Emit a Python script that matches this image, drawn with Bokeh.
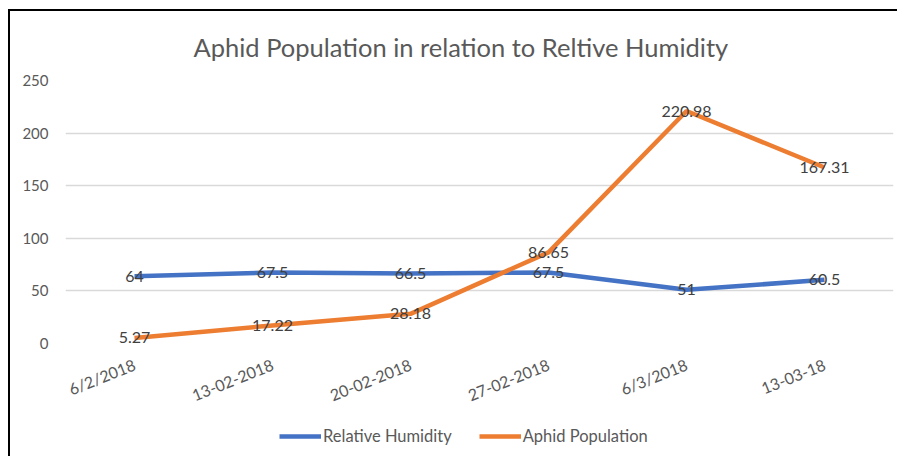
from bokeh.plotting import figure
from bokeh.models import ColumnDataSource, Legend, LegendItem, FactorRange, Range1d, SingleIntervalTicker
from bokeh.layouts import column
from bokeh.embed import file_html
from bokeh.resources import INLINE
from bokeh.core.properties import value

dates = ["6/2/2018", "13-02-2018", "20-02-2018", "27-02-2018", "6/3/2018", "13-03-18"]
humidity = [64, 67.5, 66.5, 67.5, 51, 60.5]
aphids = [5.27, 17.22, 28.18, 86.65, 220.98, 167.31]
hum_labels = ["64", "67.5", "66.5", "67.5", "51", "60.5"]
aph_labels = ["5.27", "17.22", "28.18", "86.65", "220.98", "167.31"]
series_names = ["Relative Humidity", "Aphid Population"]

FONT = "Lato"
BLUE = "#4472C4"
ORANGE = "#ED7D31"
GRAY = "#595959"

src = ColumnDataSource(dict(x=dates, h=humidity, a=aphids, hl=hum_labels, al=aph_labels))

p = figure(width=887, height=405, x_range=FactorRange(*dates), y_range=Range1d(0, 250),
           output_backend="svg", toolbar_location=None,
           title="Aphid Population in relation to Reltive Humidity",
           min_border_left=55, min_border_right=4, min_border_top=69, min_border_bottom=72)
p.outline_line_color = None
p.background_fill_color = "white"
p.border_fill_color = "white"

p.title.align = "left"
p.title.offset = 128
p.title.standoff = 37
p.title.text_font = FONT
p.title.text_font_size = "25.5px"
p.title.text_font_style = "normal"
p.title.text_color = GRAY

r1 = p.line("x", "h", source=src, line_color=BLUE, line_width=4.5)
r2 = p.line("x", "a", source=src, line_color=ORANGE, line_width=4.5)
p.text("x", "h", text="hl", source=src, text_align="center", text_baseline="middle",
       text_font=value(FONT), text_font_size="16px", text_color="#404040")
p.text("x", "a", text="al", source=src, text_align="center", text_baseline="middle",
       text_font=value(FONT), text_font_size="16px", text_color="#404040")

p.yaxis.ticker = SingleIntervalTicker(interval=50)
for ax in (p.xaxis, p.yaxis):
    ax.axis_line_color = None
    ax.major_tick_line_color = None
    ax.minor_tick_line_color = None
    ax.major_label_text_font = FONT
    ax.major_label_text_color = GRAY
p.yaxis.major_label_text_font_size = "15px"
p.xaxis.major_label_text_font_size = "16px"
p.xaxis.major_label_orientation = 0.38
p.xaxis.major_label_standoff = 14
p.yaxis.major_label_standoff = 11

p.xgrid.grid_line_color = None
p.ygrid.grid_line_color = "#d9d9d9"
p.ygrid.grid_line_width = 1.5

# legend strip below the chart (its lines lie outside the visible range)
lf = figure(width=887, height=40, x_range=Range1d(0, 1), y_range=Range1d(0, 1),
            output_backend="svg", toolbar_location=None,
            min_border_left=0, min_border_right=0, min_border_top=0, min_border_bottom=0)
lf.axis.visible = False
lf.grid.visible = False
lf.outline_line_color = None
lsrc = ColumnDataSource(dict(x=[5, 6], y=[5, 6]))
l1 = lf.line("x", "y", source=lsrc, line_color=BLUE, line_width=4.5)
l2 = lf.line("x", "y", source=lsrc, line_color=ORANGE, line_width=4.5)
legend = Legend(items=[LegendItem(label=series_names[0], renderers=[l1]),
                       LegendItem(label=series_names[1], renderers=[l2])],
                orientation="horizontal", location=(214, 10),
                label_text_font=FONT, label_text_font_size="16.5px", label_text_color=GRAY,
                border_line_color=None, background_fill_alpha=0,
                glyph_width=42, label_standoff=2, spacing=27, margin=0, padding=4)
lf.add_layout(legend)

layout = column(p, lf, spacing=0,
                styles={"margin-left": "8px", "margin-top": "9px",
                        "border-left": "2px solid black", "border-top": "2px solid black"})
open("out.html", "w").write(file_html(layout, INLINE))
